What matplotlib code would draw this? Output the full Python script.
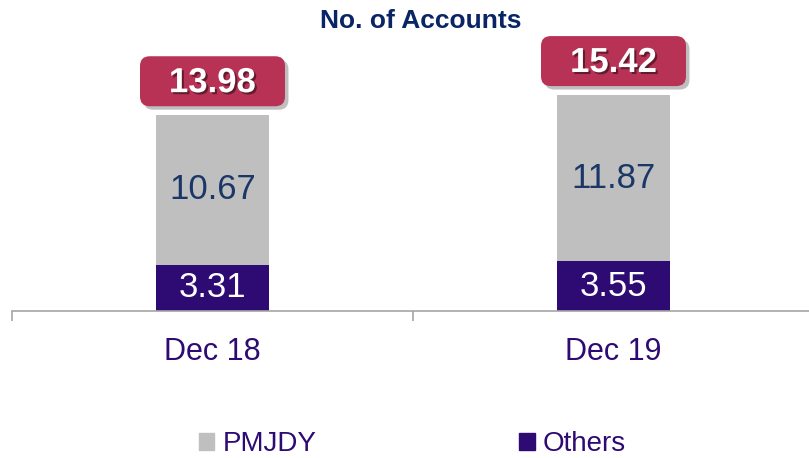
import matplotlib
matplotlib.use("Agg")
import matplotlib.pyplot as plt
from matplotlib.patches import Patch, FancyBboxPatch
from matplotlib.offsetbox import DrawingArea, AnnotationBbox
from matplotlib.text import Text
import matplotlib.patheffects as pe

plt.rcParams['font.family'] = ['Liberation Sans', 'DejaVu Sans']

categories = ["Dec 18", "Dec 19"]
others = [3.31, 3.55]
pmjdy = [10.67, 11.87]
totals = [13.98, 15.42]
title = "No. of Accounts"

GRAY = "#BFBFBF"
PURPLE = "#2E0A73"
NAVY_VAL = "#1A3768"
NAVY_TITLE = "#0A2566"
PINK = "#B83255"

W, H = 809, 458
fig = plt.figure(figsize=(W / 100, H / 100), dpi=100)
px_unit = 14.0
axis_y = 311
ax = fig.add_axes([12 / W, (H - axis_y) / H, 802 / W, axis_y / H])
ax.set_xlim(-0.5, 1.5)
ax.set_ylim(0, axis_y / px_unit)

x = list(range(len(categories)))
bw = 0.28
ax.bar(x, others, width=bw, color=PURPLE, zorder=2)
ax.bar(x, pmjdy, width=bw, bottom=others, color=GRAY, zorder=2)

for i in x:
    ax.text(i, others[i] / 2, f"{others[i]:.2f}", ha='center', va='center',
            color='white', fontsize=25, zorder=3)
    ax.text(i, others[i] + pmjdy[i] / 2, f"{pmjdy[i]:.2f}", ha='center', va='center',
            color=NAVY_VAL, fontsize=25, zorder=3)

# total boxes
bw_pt, bh_pt = 145 * 0.72, 50 * 0.72
for i in x:
    da = DrawingArea(bw_pt, bh_pt, 0, 0)
    box = FancyBboxPatch((0, 0), bw_pt, bh_pt,
                         boxstyle="round,pad=0,rounding_size=7",
                         fc=PINK, ec='none')
    box.set_path_effects([pe.SimplePatchShadow(offset=(2.5, -2.5), shadow_rgbFace='black', alpha=0.25),
                          pe.Normal()])
    da.add_artist(box)
    t = Text(bw_pt / 2, bh_pt / 2 - 1, f"{totals[i]:.2f}", ha='center', va='center',
             color='white', fontsize=25, fontweight='bold')
    t.set_path_effects([pe.SimplePatchShadow(offset=(1.5, -1.5), shadow_rgbFace='black', alpha=0.45),
                        pe.Normal()])
    da.add_artist(t)
    ab = AnnotationBbox(da, (i, totals[i]), xybox=(0, 24.5), xycoords='data',
                        boxcoords='offset points', frameon=False, box_alignment=(0.5, 0.5),
                        pad=0, annotation_clip=False)
    ax.add_artist(ab)

# axes styling
for s in ['top', 'right', 'left']:
    ax.spines[s].set_visible(False)
ax.spines['bottom'].set_color('#A6A6A6')
ax.spines['bottom'].set_linewidth(1.2)
ax.set_yticks([])
ax.set_xticks(x)
ax.set_xticklabels(categories, fontsize=22, color=PURPLE)
ax.tick_params(axis='x', which='major', length=0, pad=19)
ax.set_xticks([-0.5, 0.5, 1.5], minor=True)
ax.tick_params(axis='x', which='minor', length=7, width=1.2, color='#A6A6A6', direction='out')

fig.text(0.52, 1 - 21 / H, title, ha='center', va='center', fontsize=19,
         fontweight='bold', color=NAVY_TITLE)

handles = [Patch(color=GRAY, label="PMJDY"), Patch(color=PURPLE, label="Others")]
leg = fig.legend(handles=handles, loc='center', bbox_to_anchor=(0.51, 1 - 444 / H),
                 ncol=2, frameon=False, fontsize=20, handlelength=0.55, handleheight=0.55,
                 handletextpad=0.3, columnspacing=7.3, borderaxespad=0, borderpad=0)
for txt in leg.get_texts():
    txt.set_color(PURPLE)

fig.savefig("out.png", dpi=100)
